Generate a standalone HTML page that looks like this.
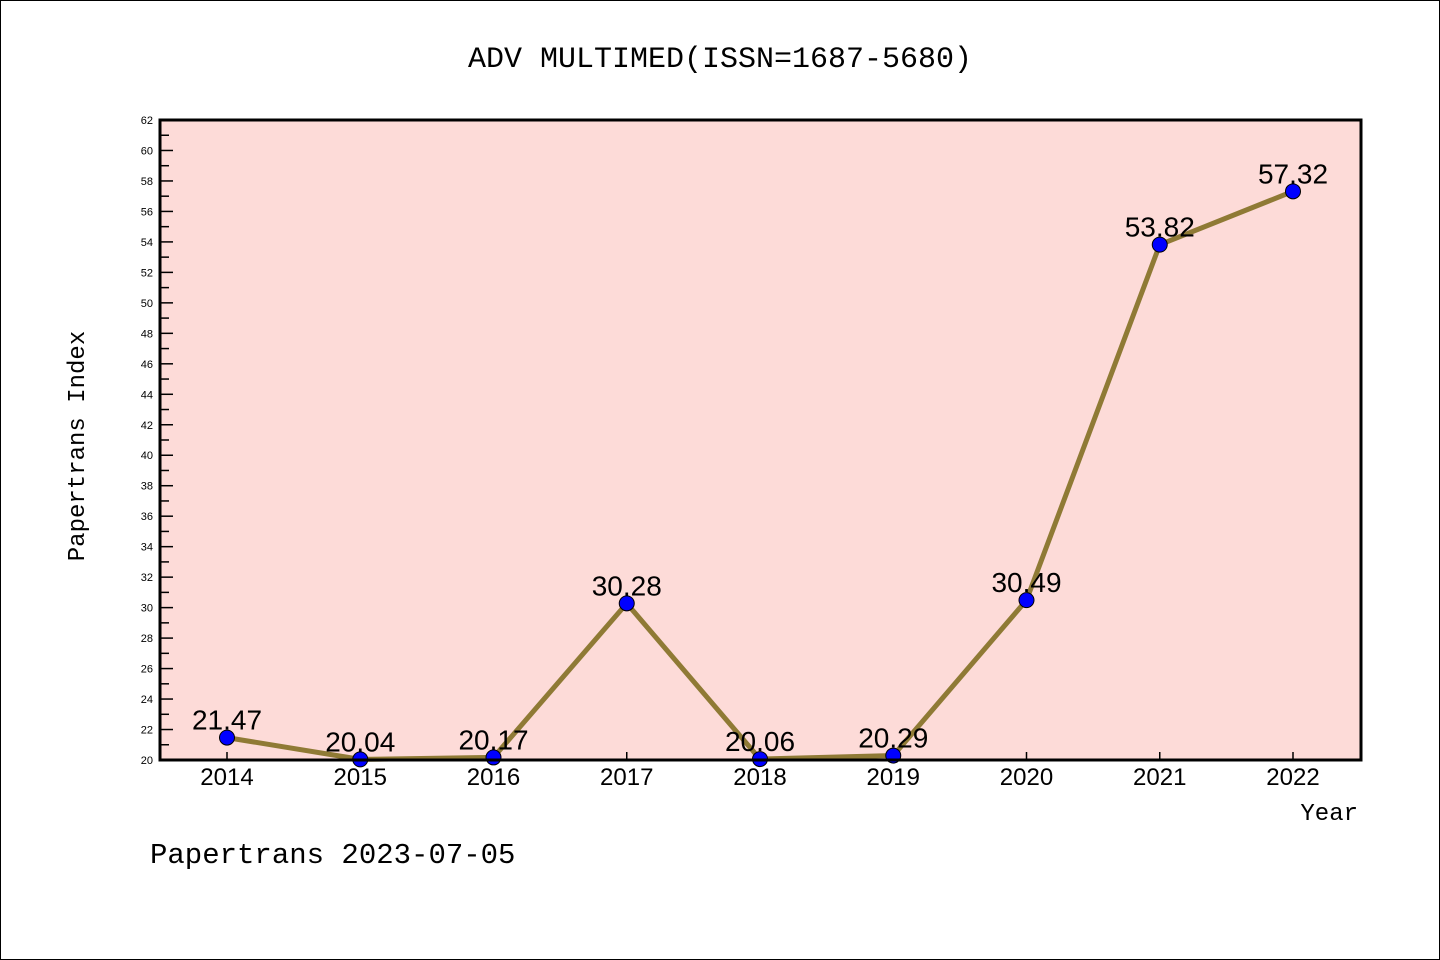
<!DOCTYPE html>
<html><head><meta charset="utf-8"><style>
body{margin:0;background:#fff}
svg{display:block;font-family:"Liberation Sans","Noto Sans CJK SC",sans-serif}
</style></head><body>
<svg id="c" width="1440" height="960">
<rect x="0.5" y="0.5" width="1439" height="959" fill="#fff" stroke="#000"/>
<text x="720" y="67" font-size="30" text-anchor="middle" font-family="Liberation Mono,monospace">ADV MULTIMED(ISSN=1687-5680)</text>
<rect x="160" y="120" width="1201" height="640" fill="#fddbd8"/>
<g id="yaxis"></g><g id="xaxis"></g><g id="series"></g>
<rect x="160" y="120" width="1201" height="640" fill="none" stroke="#000" stroke-width="3"/>
<text transform="translate(84,446) rotate(-90)" font-size="24" text-anchor="middle" font-family="Liberation Mono,monospace">Papertrans Index</text>
<text x="1358" y="820" font-size="24" text-anchor="end" font-family="Liberation Mono,monospace">Year</text>
<text x="150" y="863" font-size="29" font-family="Liberation Mono,monospace">Papertrans 2023-07-05</text>
</svg>
<script>
const years=["2014","2015","2016","2017","2018","2019","2020","2021","2022"];
const values=[21.47,20.04,20.17,30.28,20.06,20.29,30.49,53.82,57.32];
const labels=["21.47","20.04","20.17","30.28","20.06","20.29","30.49","53.82","57.32"];
const yMin=20,yMax=62;
const NS="http://www.w3.org/2000/svg";
function X(i){return 227+i*(1293-227)/(years.length-1);}
function Y(v){return 760-(v-yMin)/(yMax-yMin)*640;}
function mk(t,a,p){const e=document.createElementNS(NS,t);for(const k in a)e.setAttribute(k,a[k]);p.appendChild(e);return e;}
const ya=document.getElementById('yaxis'),xa=document.getElementById('xaxis'),sg=document.getElementById('series');
for(let v=yMin;v<=yMax;v++){
 const major=v%2===0;
 const t=mk('line',{x1:160,x2:major?173:169,y1:Y(v),y2:Y(v),stroke:'#000','stroke-width':1.5},ya);
 
 
 if(major){const l=mk('text',{x:153,y:Y(v)+4,'font-size':11,'text-anchor':'end'},ya);l.textContent=v;
 
 }
}
years.forEach((y,i)=>{
 const t=mk('line',{x1:X(i),x2:X(i),y1:760,y2:752,stroke:'#000','stroke-width':1.5},xa);
 
 
 const l=mk('text',{x:X(i),y:785,'font-size':24,'text-anchor':'middle'},xa);l.textContent=y;
 
 
});
const pl=mk('polyline',{points:values.map((v,i)=>X(i)+','+Y(v)).join(' '),fill:'none',stroke:'#8f7a35','stroke-width':5,'stroke-linejoin':'round'},sg);


values.forEach((v,i)=>{
 const l=mk('text',{x:X(i),y:Y(v)-8,'font-size':28,'text-anchor':'middle'},sg);l.textContent=labels[i];
 
 
 const c=mk('circle',{cx:X(i),cy:Y(v),r:7.5,fill:'#0000ff',stroke:'#000','stroke-width':1},sg);
 
 
});
</script>
</body></html>
